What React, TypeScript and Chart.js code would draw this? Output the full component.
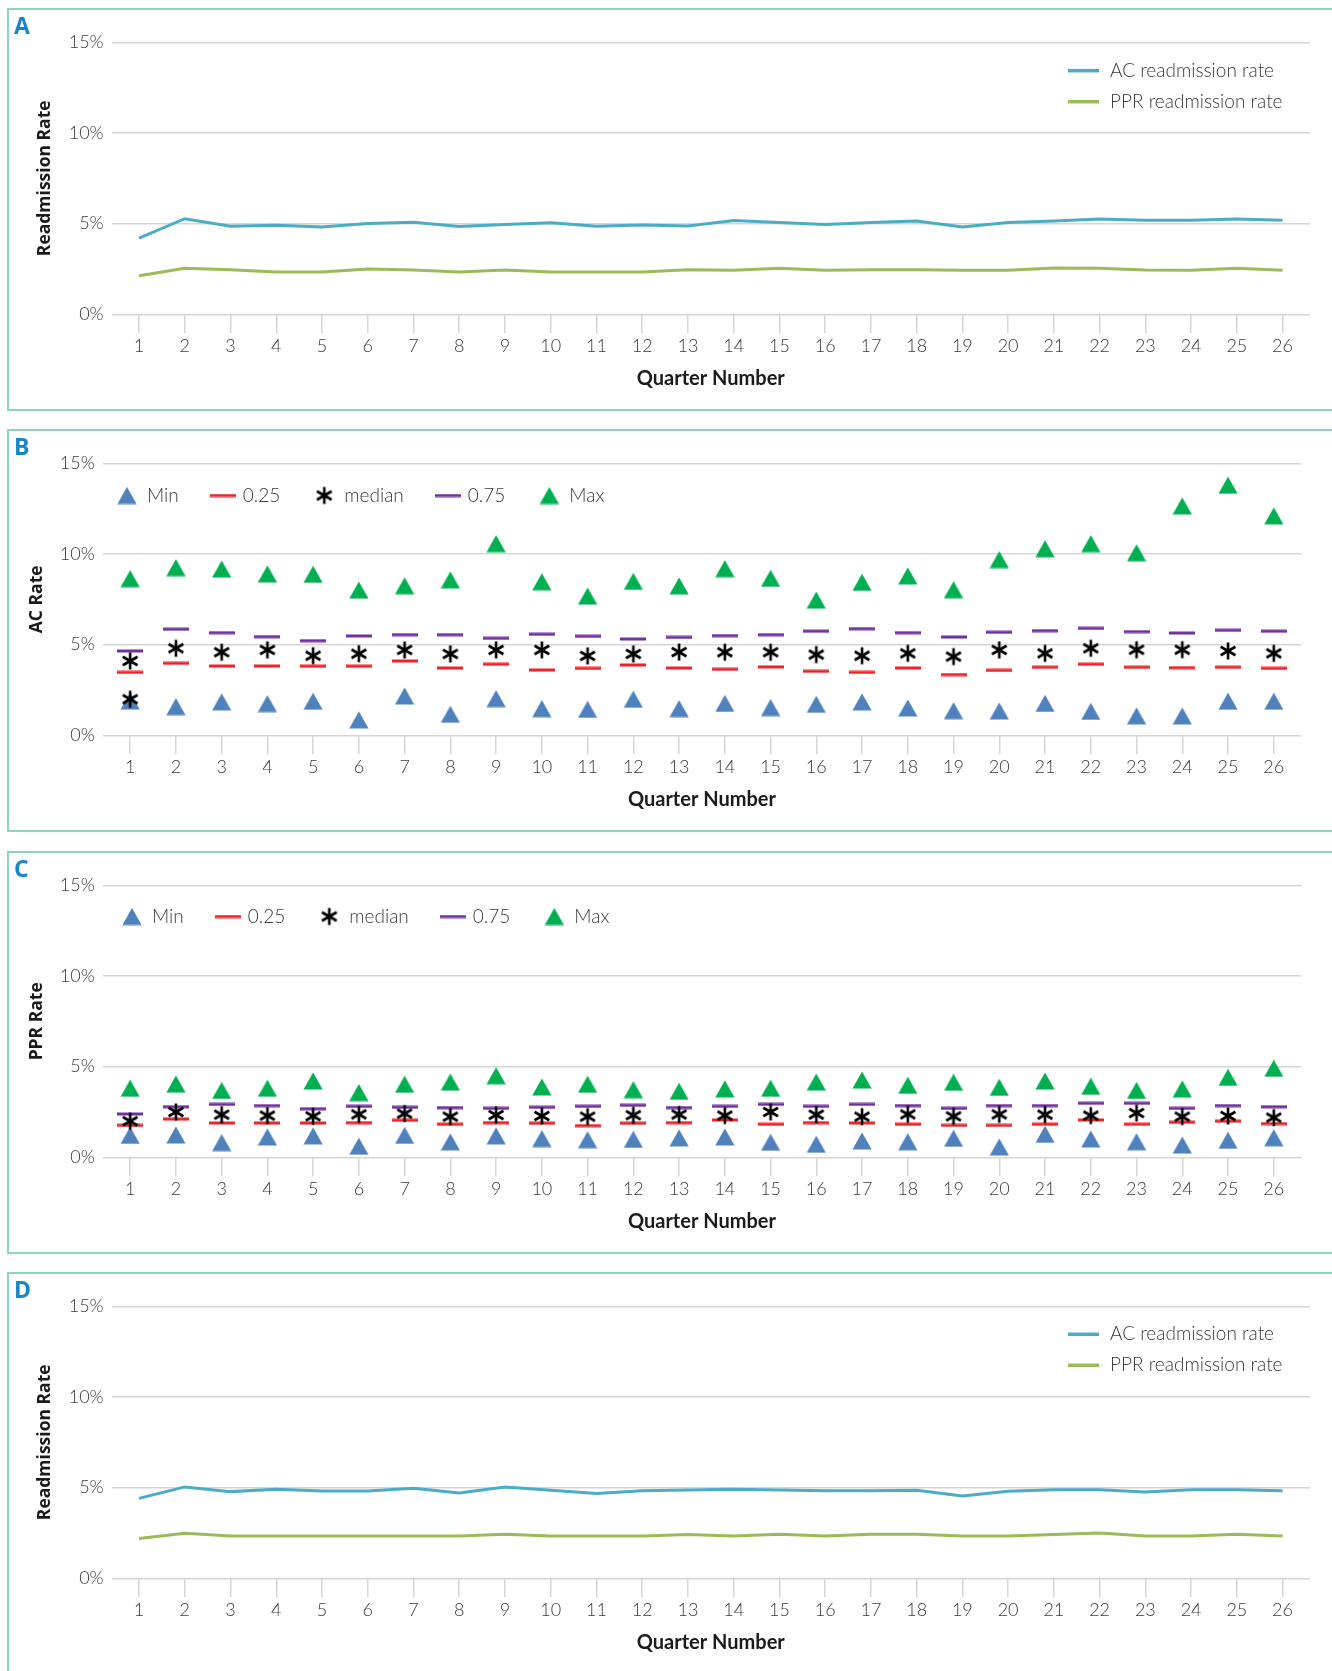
import React, { useEffect, useRef } from 'react';
import { Chart, registerables } from 'chart.js';

Chart.register(...registerables);

// ---------------- data ----------------
const quarters = [1, 2, 3, 4, 5, 6, 7, 8, 9, 10, 11, 12, 13, 14, 15, 16, 17, 18, 19, 20, 21, 22, 23, 24, 25, 26];
const yTickValues = [0, 5, 10, 15];

// Panel A
const acRateA = [4.2, 5.27, 4.86, 4.91, 4.81, 5.01, 5.08, 4.84, 4.95, 5.05, 4.85, 4.93, 4.87, 5.17, 5.06, 4.95, 5.06, 5.15, 4.82, 5.06, 5.14, 5.25, 5.18, 5.18, 5.25, 5.18];
const pprRateA = [2.13, 2.54, 2.46, 2.33, 2.33, 2.5, 2.44, 2.33, 2.44, 2.33, 2.33, 2.33, 2.45, 2.43, 2.54, 2.43, 2.46, 2.46, 2.43, 2.43, 2.56, 2.54, 2.44, 2.43, 2.54, 2.43];

// Panel B (AC rate distribution)
const acMin = [1.89, 1.58, 1.84, 1.75, 1.88, 0.85, 2.17, 1.16, 2.02, 1.47, 1.43, 1.99, 1.47, 1.76, 1.53, 1.71, 1.84, 1.51, 1.36, 1.34, 1.76, 1.32, 1.07, 1.07, 1.88, 1.88];
const acQ1 = [3.47, 3.97, 3.82, 3.82, 3.81, 3.81, 4.1, 3.71, 3.92, 3.6, 3.69, 3.88, 3.71, 3.64, 3.77, 3.53, 3.47, 3.71, 3.35, 3.58, 3.75, 3.92, 3.75, 3.73, 3.75, 3.69];
const acMedian = [4.1, 4.8, 4.58, 4.71, 4.39, 4.5, 4.71, 4.49, 4.71, 4.71, 4.38, 4.49, 4.59, 4.58, 4.58, 4.45, 4.39, 4.52, 4.34, 4.71, 4.52, 4.8, 4.72, 4.72, 4.65, 4.52];
const acMedianExtra = [{ q: 1, v: 1.99 }];
const acQ3 = [4.65, 5.85, 5.66, 5.44, 5.22, 5.48, 5.55, 5.55, 5.35, 5.57, 5.46, 5.31, 5.4, 5.5, 5.55, 5.74, 5.88, 5.66, 5.42, 5.68, 5.77, 5.9, 5.72, 5.64, 5.79, 5.74];
const acMax = [8.64, 9.25, 9.17, 8.9, 8.88, 8.01, 8.25, 8.57, 10.57, 8.47, 7.68, 8.49, 8.24, 9.19, 8.66, 7.46, 8.44, 8.79, 8.03, 9.69, 10.29, 10.57, 10.07, 12.65, 13.79, 12.1];

// Panel C (PPR rate distribution)
const pprMin = [1.21, 1.23, 0.81, 1.12, 1.18, 0.61, 1.21, 0.85, 1.18, 1.03, 0.97, 0.99, 1.07, 1.12, 0.83, 0.72, 0.9, 0.86, 1.05, 0.57, 1.27, 1.01, 0.86, 0.68, 0.94, 1.08];
const pprQ1 = [1.76, 2.11, 1.89, 1.89, 1.89, 1.91, 2.04, 1.82, 1.91, 1.88, 1.75, 1.88, 1.91, 2.06, 1.82, 1.91, 1.89, 1.82, 1.76, 1.76, 1.82, 2.06, 1.82, 1.93, 1.99, 1.86];
const pprMedian = [1.99, 2.5, 2.35, 2.3, 2.26, 2.37, 2.41, 2.24, 2.33, 2.28, 2.24, 2.32, 2.36, 2.3, 2.5, 2.35, 2.24, 2.37, 2.26, 2.37, 2.35, 2.3, 2.44, 2.24, 2.28, 2.19];
const pprQ3 = [2.39, 2.79, 2.92, 2.85, 2.68, 2.81, 2.76, 2.74, 2.7, 2.76, 2.81, 2.87, 2.74, 2.81, 2.92, 2.81, 2.92, 2.85, 2.7, 2.85, 2.85, 2.98, 2.98, 2.7, 2.85, 2.79];
const pprMax = [3.81, 4.04, 3.69, 3.81, 4.21, 3.57, 4.03, 4.15, 4.5, 3.88, 4.03, 3.73, 3.64, 3.77, 3.81, 4.15, 4.26, 3.97, 4.14, 3.86, 4.21, 3.92, 3.69, 3.77, 4.41, 4.91];

// Panel D
const acRateD = [4.41, 5.04, 4.78, 4.91, 4.82, 4.82, 4.96, 4.71, 5.04, 4.85, 4.67, 4.83, 4.87, 4.91, 4.87, 4.83, 4.83, 4.85, 4.54, 4.8, 4.89, 4.89, 4.76, 4.89, 4.89, 4.83];
const pprRateD = [2.19, 2.48, 2.33, 2.33, 2.33, 2.33, 2.33, 2.33, 2.43, 2.33, 2.33, 2.33, 2.41, 2.33, 2.43, 2.33, 2.43, 2.43, 2.33, 2.33, 2.41, 2.5, 2.33, 2.33, 2.43, 2.33];

// ---------------- styles ----------------
const W = 1332;
const H = 404;
const AREA_TOP = 34.3;
const AREA_BOTTOM = 306.3;
const GRID = '#d6d6d6';
const TICK_COLOR = '#3a3a3a';
const TITLE_COLOR = '#1a1a1a';
const AC_COLOR = '#4bacc6';
const PPR_COLOR = '#9bbb59';
const MIN_COLOR = '#4f81bd';
const MAX_COLOR = '#00b050';
const Q1_COLOR = '#ee2229';
const Q3_COLOR = '#7030a0';
const LETTER_COLOR = '#1a86c8';
const BORDER_COLOR = '#8fd4be';

function triangleImg(color: string) {
  const c = document.createElement('canvas');
  c.width = 20;
  c.height = 18;
  const g = c.getContext('2d')!;
  g.fillStyle = color;
  g.beginPath();
  g.moveTo(10, 0.6);
  g.lineTo(19.6, 17.4);
  g.lineTo(0.4, 17.4);
  g.closePath();
  g.fill();
  return c;
}

function dashImg(color: string) {
  const c = document.createElement('canvas');
  c.width = 26;
  c.height = 4;
  const g = c.getContext('2d')!;
  g.fillStyle = color;
  g.fillRect(0, 0.5, 26, 3);
  return c;
}

function asteriskImg() {
  const c = document.createElement('canvas');
  c.width = 20;
  c.height = 20;
  const g = c.getContext('2d')!;
  g.strokeStyle = '#000';
  g.lineWidth = 2.6;
  const r = 8.5;
  [90, 30, -30].forEach((deg) => {
    const a = (deg * Math.PI) / 180;
    g.beginPath();
    g.moveTo(10 - Math.cos(a) * r, 10 - Math.sin(a) * r);
    g.lineTo(10 + Math.cos(a) * r, 10 + Math.sin(a) * r);
    g.stroke();
  });
  return c;
}

const panelExtras = {
  id: 'panelExtras',
  afterDraw(chart: any, _args: any, opts: any) {
    const ctx = chart.ctx;
    ctx.save();
    ctx.font = '700 23px "Open Sans"';
    ctx.fillStyle = LETTER_COLOR;
    ctx.textBaseline = 'alphabetic';
    ctx.textAlign = 'left';
    ctx.fillText(opts.letter, 14, 25.5);

    ctx.font = '300 19px Lato';
    ctx.fillStyle = TICK_COLOR;
    ctx.textBaseline = 'middle';
    if (opts.legend === 'rows') {
      chart.data.datasets.forEach((ds: any, i: number) => {
        const y = opts.y + i * opts.rowGap;
        ctx.strokeStyle = ds.borderColor;
        ctx.lineWidth = 3.5;
        ctx.beginPath();
        ctx.moveTo(opts.x, y);
        ctx.lineTo(opts.x + 31, y);
        ctx.stroke();
        ctx.fillText(ds.label, opts.x + 42, y);
      });
    } else {
      let x = opts.x;
      chart.data.datasets.forEach((ds: any) => {
        const img = ds.pointStyle;
        ctx.drawImage(img, x - img.width / 2, opts.y - img.height / 2);
        ctx.fillText(ds.label, x + 20, opts.y);
        x += 20 + ctx.measureText(ds.label).width + 44;
      });
    }
    ctx.restore();
  },
};

interface PanelCfg {
  letter: string;
  yTitle: string;
  left: number;
  right: number;
  yTitleX: number;
  kind: 'lines' | 'stats';
  legendX: number;
  legendY: number;
}

function buildOptions(cfg: PanelCfg) {
  const tickFont = { family: 'Lato', weight: '300', size: 18 };
  return {
    animation: false,
    responsive: false,
    maintainAspectRatio: false,
    events: [],
    layout: { padding: { top: AREA_TOP, right: W - cfg.right, left: 0, bottom: 0 } },
    scales: {
      x: {
        type: 'linear',
        min: 0.4,
        max: 26.6,
        afterBuildTicks: (s: any) => {
          s.ticks = quarters.map((q) => ({ value: q }));
        },
        afterFit: (s: any) => {
          s.height = H - AREA_BOTTOM;
        },
        grid: { drawOnChartArea: false, drawTicks: true, tickLength: 19, color: GRID, lineWidth: 1.5 },
        border: { display: false },
        ticks: {
          font: tickFont,
          color: TICK_COLOR,
          padding: 2,
          autoSkip: false,
          maxRotation: 0,
          callback: (v: any) => String(v),
        },
        title: {
          display: true,
          text: 'Quarter Number',
          font: { family: 'Lato', weight: '700', size: 20 },
          color: TITLE_COLOR,
          padding: { top: 0, bottom: 21 },
        },
      },
      y: {
        type: 'linear',
        min: 0,
        max: 15,
        afterBuildTicks: (s: any) => {
          s.ticks = yTickValues.map((v) => ({ value: v }));
        },
        afterFit: (s: any) => {
          s.width = cfg.left;
        },
        grid: { color: GRID, lineWidth: 1.5, drawTicks: false },
        border: { display: false },
        ticks: {
          font: tickFont,
          color: TICK_COLOR,
          padding: 8,
          callback: (v: any) => v + '%',
        },
        title: {
          display: true,
          text: cfg.yTitle,
          font: { family: 'Open Sans', weight: '700', size: 17.5 },
          color: TITLE_COLOR,
          padding: { top: cfg.yTitleX - 10.5, bottom: 0 },
        },
      },
    },
    plugins: {
      legend: { display: false },
      tooltip: { enabled: false },
      panelExtras:
        cfg.kind === 'lines'
          ? { letter: cfg.letter, legend: 'rows', x: cfg.legendX, y: cfg.legendY, rowGap: 31 }
          : { letter: cfg.letter, legend: 'flow', x: cfg.legendX, y: cfg.legendY },
    },
  };
}

function pts(values: number[]) {
  return quarters.map((q, i) => ({ x: q, y: values[i] }));
}

function lineData(ac: number[], ppr: number[]) {
  const common = { pointRadius: 0, borderWidth: 3, tension: 0, fill: false };
  return {
    datasets: [
      { label: 'AC readmission rate', data: pts(ac), borderColor: AC_COLOR, backgroundColor: AC_COLOR, ...common },
      { label: 'PPR readmission rate', data: pts(ppr), borderColor: PPR_COLOR, backgroundColor: PPR_COLOR, ...common },
    ],
  };
}

function statsData(
  mn: number[],
  q1: number[],
  med: number[],
  q3: number[],
  mx: number[],
  medExtra: { q: number; v: number }[]
) {
  const common = { showLine: false, pointRadius: 9, pointHoverRadius: 9, borderWidth: 0 };
  const medPts = pts(med).concat(medExtra.map((e) => ({ x: e.q, y: e.v })));
  return {
    datasets: [
      { label: 'Min', data: pts(mn), pointStyle: triangleImg(MIN_COLOR), order: 2, ...common },
      { label: '0.25', data: pts(q1), pointStyle: dashImg(Q1_COLOR), order: 3, ...common },
      { label: 'median', data: medPts, pointStyle: asteriskImg(), order: 0, ...common },
      { label: '0.75', data: pts(q3), pointStyle: dashImg(Q3_COLOR), order: 4, ...common },
      { label: 'Max', data: pts(mx), pointStyle: triangleImg(MAX_COLOR), order: 1, ...common },
    ],
  };
}

const panels: { top: number; cfg: PanelCfg; data: () => any }[] = [
  {
    top: 8,
    cfg: { letter: 'A', yTitle: 'Readmission Rate', left: 111.6, right: 1310, yTitleX: 44.8, kind: 'lines', legendX: 1068, legendY: 62.7 },
    data: () => lineData(acRateA, pprRateA),
  },
  {
    top: 429,
    cfg: { letter: 'B', yTitle: 'AC Rate', left: 102.7, right: 1301.2, yTitleX: 37.5, kind: 'stats', legendX: 127, legendY: 66.5 },
    data: () => statsData(acMin, acQ1, acMedian, acQ3, acMax, acMedianExtra),
  },
  {
    top: 851,
    cfg: { letter: 'C', yTitle: 'PPR Rate', left: 102.7, right: 1301.2, yTitleX: 37.3, kind: 'stats', legendX: 132, legendY: 65.5 },
    data: () => statsData(pprMin, pprQ1, pprMedian, pprQ3, pprMax, []),
  },
  {
    top: 1272,
    cfg: { letter: 'D', yTitle: 'Readmission Rate', left: 111.6, right: 1310, yTitleX: 44.8, kind: 'lines', legendX: 1068, legendY: 62.3 },
    data: () => lineData(acRateD, pprRateD),
  },
];

function Panel({ top, cfg, data }: { top: number; cfg: PanelCfg; data: () => any }) {
  const ref = useRef<HTMLCanvasElement | null>(null);
  useEffect(() => {
    if (!ref.current) return;
    const chart = new Chart(ref.current, {
      type: 'line',
      data: data(),
      options: buildOptions(cfg) as any,
      plugins: [panelExtras as any],
    });
    return () => chart.destroy();
  }, []);
  return (
    <>
      <div
        style={{
          position: 'absolute',
          left: 7,
          top,
          width: 1360,
          height: 403,
          boxSizing: 'border-box',
          border: `2px solid ${BORDER_COLOR}`,
        }}
      />
      <canvas
        ref={ref}
        width={W}
        height={H}
        style={{ position: 'absolute', left: 0, top, width: W, height: H }}
      />
    </>
  );
}

export default function App() {
  return (
    <div
      style={{
        position: 'fixed',
        left: 0,
        top: 0,
        width: '100vw',
        height: '100vh',
        overflow: 'hidden',
        background: '#ffffff',
      }}
    >
      {panels.map((p) => (
        <Panel key={p.cfg.letter} top={p.top} cfg={p.cfg} data={p.data} />
      ))}
    </div>
  );
}
